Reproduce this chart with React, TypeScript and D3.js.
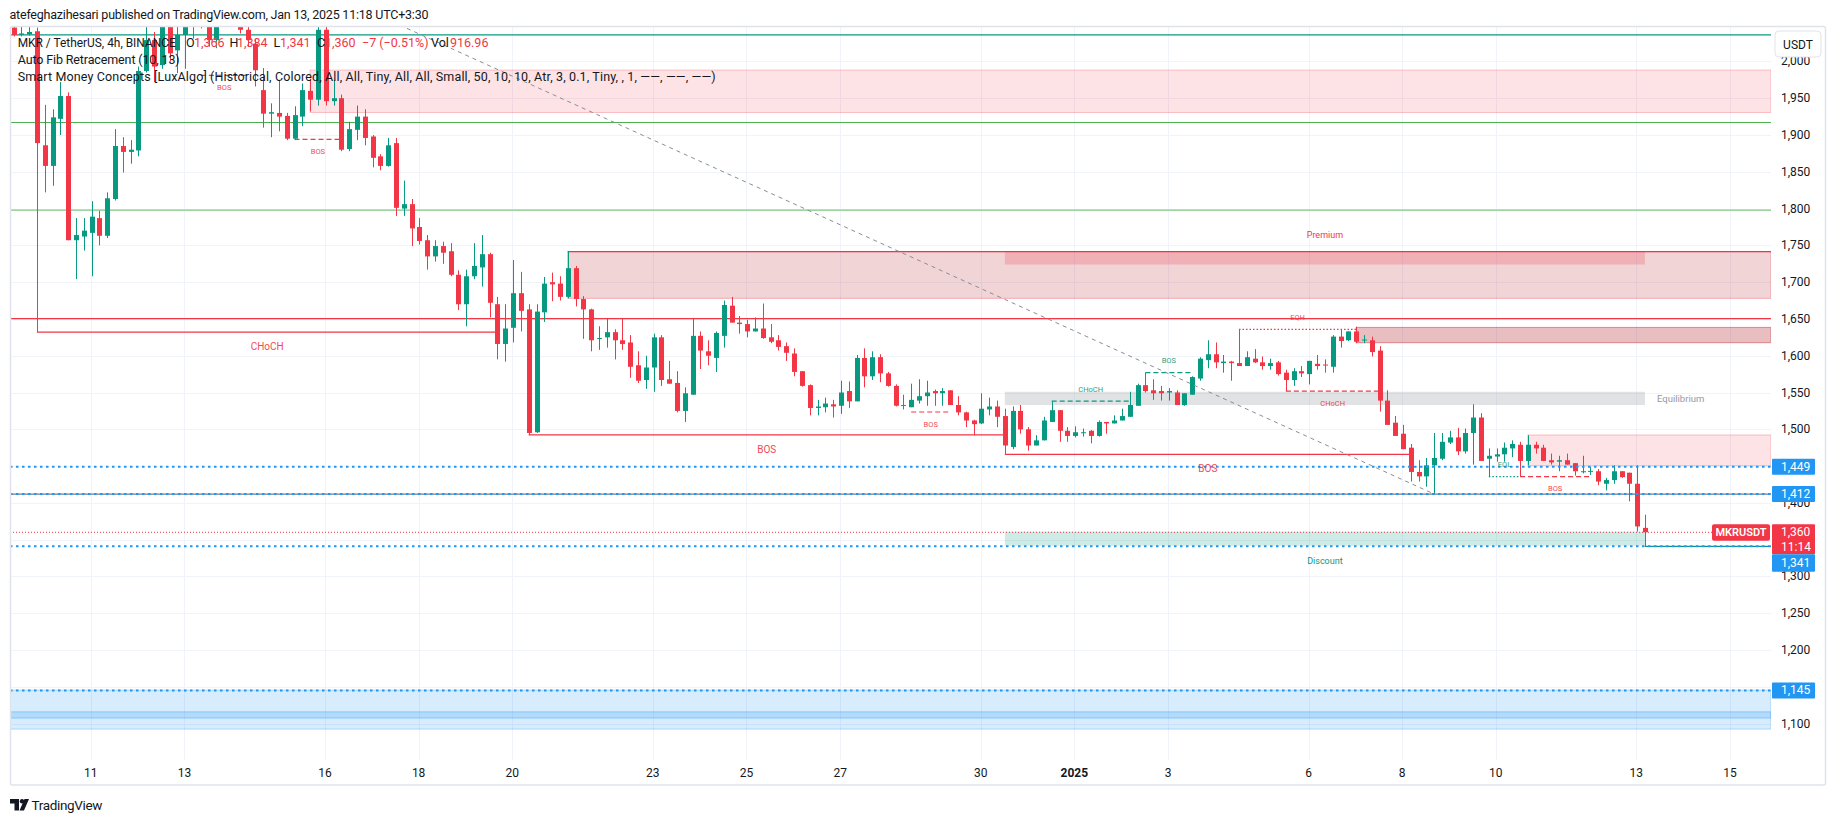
import React from "react";
import * as d3 from "d3";

// ---------------- DATA ----------------
const opens = [
  2046, 2036, 2037, 2041, 1886, 1858, 1922, 1953, 1757, 1762,
  1767, 1787, 1763, 1813, 1885, 1877, 1879, 1987, 2029, 1995,
  2047, 2015, 2036, 2060, 2048, 2072, 2029, 2055, 2075, 2060,
  2043, 2024, 1961, 1929, 1930, 1926, 1895, 1925, 1960, 1948,
  2043, 1946, 1950, 1881, 1907, 1925, 1898, 1871, 1858, 1889,
  1800, 1806, 1775, 1757, 1735, 1749, 1742, 1710, 1670, 1708,
  1720, 1738, 1670, 1616, 1638, 1685, 1663, 1496, 1659, 1700,
  1698, 1680, 1719, 1677, 1663, 1623, 1625, 1632, 1621, 1618,
  1587, 1567, 1584, 1625, 1568, 1563, 1525, 1547, 1627, 1606,
  1597, 1627, 1668, 1645, 1643, 1633, 1637, 1625, 1621, 1613,
  1603, 1579, 1560, 1529, 1530, 1534, 1532, 1552, 1538, 1597,
  1572, 1598, 1576, 1559, 1533, 1530, 1539, 1545, 1552, 1549,
  1553, 1533, 1523, 1512, 1508, 1527, 1531, 1518, 1476, 1525,
  1500, 1478, 1485, 1510, 1526, 1498, 1491, 1495, 1498, 1491,
  1510, 1508, 1512, 1517, 1532, 1560, 1553, 1552, 1550, 1550,
  1533, 1547, 1569, 1594, 1602, 1590, 1592, 1590, 1586, 1596,
  1591, 1586, 1591, 1577, 1567, 1579, 1575, 1589, 1588, 1585,
  1626, 1621, 1633, 1621, 1621, 1607, 1539, 1509, 1494, 1475,
  1442, 1436, 1451, 1460, 1482, 1489, 1470, 1495, 1516, 1460,
  1463, 1466, 1474, 1479, 1457, 1479, 1475, 1458, 1456, 1458,
  1454, 1442, 1443, 1443, 1426, 1431, 1443, 1441, 1426, 1366,
];
const highs = [
  2052, 2047, 2047, 2046, 1941, 1935, 1972, 1958, 1787, 1787,
  1810, 1797, 1822, 1908, 1897, 1893, 1993, 2050, 2040, 2060,
  2070, 2048, 2075, 2080, 2090, 2080, 2070, 2095, 2085, 2070,
  2050, 2030, 1991, 1943, 1975, 1930, 1939, 1970, 1976, 2048,
  2048, 1975, 1955, 1918, 1940, 1935, 1900, 1874, 1896, 1896,
  1838, 1813, 1787, 1764, 1757, 1755, 1753, 1716, 1717, 1753,
  1764, 1740, 1680, 1670, 1730, 1714, 1670, 1670, 1707, 1713,
  1708, 1741.5, 1722, 1681, 1664, 1640, 1651, 1636, 1650, 1628,
  1606, 1600, 1630, 1628, 1593, 1579, 1557, 1651, 1633, 1621,
  1633, 1675, 1680, 1654, 1649, 1652, 1671, 1643, 1628, 1618,
  1610, 1579, 1561, 1540, 1543, 1540, 1566, 1565, 1601, 1610,
  1606, 1602, 1578, 1561, 1547, 1562, 1568, 1566, 1554, 1556,
  1553, 1545, 1524, 1513, 1549, 1543, 1539, 1528, 1531, 1533,
  1503, 1492, 1517, 1538, 1526, 1503, 1504, 1501, 1499, 1512,
  1510, 1519, 1528, 1551, 1562, 1577, 1568, 1559, 1556, 1553,
  1549, 1572, 1598, 1621, 1618, 1601, 1593, 1636, 1606, 1609,
  1599, 1596, 1593, 1581, 1583, 1586, 1593, 1601, 1595, 1628,
  1636, 1633, 1639.5, 1628, 1626, 1613, 1553, 1518, 1506, 1480,
  1458, 1461, 1495, 1495, 1498, 1502, 1501, 1534, 1522, 1474,
  1474, 1482, 1485, 1483, 1492, 1483, 1479, 1467, 1464, 1467,
  1454, 1464, 1449, 1446, 1434, 1451, 1443, 1441, 1451, 1384,
];
const lows = [
  2034, 2034, 2035, 1632, 1822, 1831, 1900, 1757, 1704, 1743,
  1708, 1750, 1760, 1811, 1849, 1861, 1871, 1985, 1972, 1990,
  2000, 1984, 1990, 2031, 2045, 2020, 2018, 2048, 2050, 2038,
  2020, 1966, 1910, 1897, 1905, 1893, 1893, 1912, 1932, 1940,
  1940, 1940, 1878, 1878, 1893, 1886, 1856, 1852, 1857, 1790,
  1790, 1749, 1751, 1717, 1728, 1725, 1708, 1662, 1640, 1704,
  1694, 1652, 1595, 1592, 1618, 1633, 1492, 1495, 1646, 1674,
  1675, 1678, 1667, 1623, 1606, 1608, 1611, 1595, 1608, 1570,
  1563, 1555, 1551, 1559, 1562, 1523, 1510, 1547, 1582, 1587,
  1578, 1611, 1645, 1630, 1625, 1633, 1623, 1617, 1607, 1593,
  1572, 1558, 1519, 1519, 1523, 1516, 1521, 1529, 1538, 1557,
  1567, 1564, 1558, 1531, 1527, 1530, 1535, 1532, 1532, 1532,
  1533, 1519, 1503, 1492, 1507, 1519, 1503, 1466, 1473, 1494,
  1471, 1478, 1485, 1510, 1483, 1483, 1489, 1490, 1481, 1490,
  1494, 1508, 1512, 1517, 1532, 1550, 1540, 1539, 1539, 1533,
  1532, 1547, 1566, 1583, 1583, 1577, 1566, 1586, 1586, 1590,
  1581, 1581, 1573, 1552, 1559, 1571, 1561, 1581, 1577, 1577,
  1611, 1620, 1617, 1617, 1599, 1524, 1506, 1491, 1473, 1429,
  1429, 1422, 1412, 1458, 1480, 1465, 1467, 1452, 1457, 1435,
  1456, 1456, 1462, 1436, 1451, 1467, 1457, 1452, 1443, 1452,
  1437, 1440, 1438, 1424, 1417, 1426, 1434, 1402, 1361, 1341,
];
const closes = [
  2036, 2038, 2040, 1889, 1858, 1924, 1953, 1757, 1764, 1770,
  1789, 1763, 1814, 1885, 1877, 1880, 1987, 2029, 1993, 2047,
  2011, 2036, 2060, 2048, 2072, 2029, 2055, 2075, 2060, 2043,
  2029, 1988, 1929, 1931, 1925, 1895, 1927, 1961, 1948, 2043,
  1946, 1950, 1880, 1908, 1925, 1896, 1869, 1858, 1886, 1801,
  1806, 1773, 1756, 1735, 1749, 1740, 1710, 1670, 1708, 1722,
  1738, 1672, 1616, 1637, 1685, 1661, 1495, 1660, 1698, 1697,
  1680, 1719, 1677, 1663, 1621, 1624, 1632, 1621, 1616, 1585,
  1566, 1584, 1625, 1567, 1562, 1525, 1549, 1627, 1607, 1600,
  1631, 1669, 1645, 1643, 1633, 1637, 1624, 1619, 1612, 1604,
  1578, 1559, 1529, 1531, 1535, 1531, 1550, 1538, 1597, 1572,
  1598, 1576, 1559, 1532, 1532, 1540, 1545, 1550, 1549, 1552,
  1533, 1523, 1512, 1507, 1528, 1531, 1517, 1478, 1525, 1500,
  1478, 1485, 1512, 1526, 1498, 1491, 1496, 1496, 1491, 1510,
  1508, 1512, 1518, 1533, 1560, 1552, 1549, 1549, 1552, 1533,
  1549, 1571, 1596, 1602, 1591, 1592, 1590, 1586, 1598, 1591,
  1586, 1590, 1575, 1567, 1579, 1576, 1593, 1586, 1587, 1626,
  1620, 1633, 1619, 1622, 1605, 1539, 1506, 1491, 1473, 1442,
  1436, 1451, 1461, 1483, 1489, 1470, 1495, 1516, 1457, 1464,
  1466, 1475, 1480, 1457, 1479, 1474, 1457, 1455, 1458, 1452,
  1443, 1443, 1443.5, 1429, 1431, 1443, 1435, 1426, 1368, 1360,
];

// price-axis tick labels (1,150 / 1,350 / 1,450 sit under the coloured axis labels)
const priceTicks = [1100, 1200, 1250, 1300, 1400, 1500, 1550, 1600, 1650, 1700, 1750, 1800, 1850, 1900, 1950, 2000];
const gridPrices = [1100, 1150, 1200, 1250, 1300, 1350, 1400, 1450, 1500, 1550, 1600, 1650, 1700, 1750, 1800, 1850, 1900, 1950, 2000];
const timeTicks: [string, string][] = [
  ["2024-12-11", "11"], ["2024-12-13", "13"], ["2024-12-16", "16"], ["2024-12-18", "18"],
  ["2024-12-20", "20"], ["2024-12-23", "23"], ["2024-12-25", "25"], ["2024-12-27", "27"],
  ["2024-12-30", "30"], ["2025-01-01", "2025"], ["2025-01-03", "3"], ["2025-01-06", "6"],
  ["2025-01-08", "8"], ["2025-01-10", "10"], ["2025-01-13", "13"], ["2025-01-15", "15"],
];

// Auto Fib Retracement anchors (candle index, price)
const fibHigh = { index: -28, price: 2422 };
const fibLow = { index: 182, price: 1412 };
const fibRatios = [0, 0.236, 0.382, 0.5, 0.618];
const fibColors = ["#787b86", "#f23645", "#81c784", "#4caf50", "#089981"];

// User horizontal rays
const rayLevels = [1449, 1412, 1341, 1145];
const blueBox = { top: 1145.6, bottom: 1092.5 };
const blueBand = { top: 1116, bottom: 1107.5 };

// SMC structures: [label, level, fromIdx, toIdx, bullish, kind, size]
const structures: [string, number, number, number, boolean, string, string][] = [
  ["CHoCH", 1632, 3, 62, false, "solid", "small"],
  ["BOS", 1981, 24, 30, false, "dashed", "tiny"],
  ["BOS", 1894, 36, 42, false, "dashed", "tiny"],
  ["BOS", 1492.3, 66, 127, false, "solid", "small"],
  ["BOS", 1523.5, 115, 120, false, "dashed", "tiny"],
  ["BOS", 1466, 127, 179, false, "solid", "small"],
  ["CHoCH", 1538.4, 133, 143, true, "dashed", "tiny"],
  ["BOS", 1576.9, 145, 151, true, "dashed", "tiny"],
  ["EQH", 1635.8, 157, 172, false, "dotted", "tiny"],
  ["CHoCH", 1552, 163, 175, false, "dashed", "tiny"],
  ["EQL", 1435.6, 189, 193, true, "dotted", "tiny"],
  ["BOS", 1435.6, 193, 202, false, "dashed", "tiny"],
];

// Order blocks / zones: [top, bottom, fromIdx, toIdx (-1 = right edge), style]
const zones: [number, number, number, number, string][] = [
  [1988.3, 1930.6, 38, -1, "obLight"],
  [1741.5, 1678, 71, -1, "ob"],
  [1741.5, 1724, 127, 209, "premium"],
  [1638.5, 1617.7, 172, -1, "obDark"],
  [1551, 1533, 127, 209, "equilibrium"],
  [1492.3, 1450.5, 194, -1, "obLight"],
  [1360.8, 1341.8, 127, 209, "discount"],
];

const lastPrice = 1360;
const lastLow = 1341;

// ---------------- LAYOUT ----------------
const W = 1835;
const H = 821;
const PL = 10, PR = 1771, PT = 26, PB = 760;
const FOUR_H = 4 * 3600 * 1000;
const T0 = Date.UTC(2024, 11, 11) - 9.9 * FOUR_H;
const GREEN = "#089981";
const RED = "#f23645";
const BLUE = "#2196f3";
const FONT = "Roboto, 'Noto Sans', 'Liberation Sans', sans-serif";

const x = d3.scaleUtc()
  .domain([new Date(T0), new Date(T0 + 209 * FOUR_H)])
  .range([13.5, 13.5 + 209 * 7.806]);
const xi = (i: number) => x(new Date(T0 + i * FOUR_H));
const y = d3.scaleLinear().domain([1500, 1900]).range([429.3, 135]);
const fmt = d3.format(",");

const zoneStyle: Record<string, { fill: string; stroke: string }> = {
  obLight: { fill: "rgba(242,54,69,0.14)", stroke: "rgba(242,54,69,0.28)" },
  ob: { fill: "rgba(178,40,51,0.2)", stroke: "rgba(242,54,69,0.35)" },
  premium: { fill: "rgba(242,54,69,0.22)", stroke: "none" },
  obDark: { fill: "rgba(178,40,51,0.3)", stroke: "rgba(210,60,75,0.55)" },
  equilibrium: { fill: "rgba(135,139,148,0.25)", stroke: "none" },
  discount: { fill: "rgba(8,153,129,0.2)", stroke: "none" },
};

export default function App() {
  const candles = d3.range(opens.length).map((i) => {
    const o = opens[i], h = highs[i], l = lows[i], c = closes[i];
    const cx = Math.round(xi(i));
    const col = c >= o ? GREEN : RED;
    const yt = y(Math.max(o, c));
    const yb = y(Math.min(o, c));
    return (
      <g key={i}>
        <line x1={cx + 0.5} x2={cx + 0.5} y1={y(h)} y2={y(l)} stroke={col} strokeWidth={1} />
        <rect x={cx - 2} y={yt} width={5} height={Math.max(1, yb - yt)} fill={col} />
      </g>
    );
  });

  const fibLevels = fibRatios.map((r) => fibLow.price + r * (fibHigh.price - fibLow.price));
  const dash = (k: string) => (k === "dashed" ? "5 3" : k === "dotted" ? "1.5 2" : undefined);

  return (
    <svg width={W} height={H} style={{ position: "absolute", left: 0, top: 0, background: "#fff" }} fontFamily={FONT}>
      <defs>
        <clipPath id="plot">
          <rect x={PL} y={PT} width={PR - PL} height={PB - PT} />
        </clipPath>
      </defs>
      <rect x={0} y={0} width={W} height={H} fill="#fff" />

      {/* grid */}
      <g stroke="#f0f3fa" strokeWidth={1}>
        {gridPrices.map((p) => (
          <line key={p} x1={PL} x2={PR} y1={Math.round(y(p)) + 0.5} y2={Math.round(y(p)) + 0.5} />
        ))}
        {timeTicks.map(([d]) => {
          const xx = Math.round(x(new Date(d + "T00:00:00Z"))) + 0.5;
          return <line key={d} x1={xx} x2={xx} y1={PT} y2={PB} />;
        })}
      </g>

      <g clipPath="url(#plot)">
        {/* blue box */}
        <rect x={PL} width={PR - PL} y={y(blueBox.top)} height={y(blueBox.bottom) - y(blueBox.top)}
          fill="rgba(33,150,243,0.18)" stroke="rgba(33,150,243,0.3)" />
        <rect x={PL} width={PR - PL} y={y(blueBand.top)} height={y(blueBand.bottom) - y(blueBand.top)}
          fill="rgba(33,150,243,0.2)" stroke="rgba(33,150,243,0.35)" />

        {/* zones */}
        {zones.map(([top, bot, from, to, st], k) => {
          const x1 = xi(from);
          const x2 = to < 0 ? PR : xi(to);
          const s = zoneStyle[st];
          return (
            <rect key={k} x={x1} y={y(top)} width={x2 - x1} height={y(bot) - y(top)}
              fill={s.fill} stroke={s.stroke} strokeWidth={1} />
          );
        })}

        {/* fib levels */}
        {fibLevels.map((p, k) => (
          <line key={k} x1={PL} x2={PR} y1={y(p)} y2={y(p)} stroke={fibColors[k]} strokeWidth={1.2} />
        ))}

        {/* trailing extremes */}
        <line x1={xi(71)} x2={PR} y1={y(1741.5)} y2={y(1741.5)} stroke={RED} strokeWidth={1.2} />
        <line x1={xi(209)} x2={PR} y1={y(lastLow)} y2={y(lastLow)} stroke={GREEN} strokeWidth={1.2} />

        {/* structure lines */}
        {structures.map(([lab, lvl, a, b, bull, kind], k) => (
          <line key={k} x1={xi(a)} x2={xi(b)} y1={y(lvl)} y2={y(lvl)}
            stroke={bull ? GREEN : RED} strokeWidth={kind === "solid" ? 1.3 : 1.2}
            strokeDasharray={dash(kind)} />
        ))}

        {/* candles */}
        {candles}

        {/* user rays */}
        {rayLevels.map((p) => (
          <line key={p} x1={PL} x2={PR} y1={y(p)} y2={y(p)} stroke={BLUE} strokeWidth={2} strokeDasharray="2.5 3.5" />
        ))}

        {/* fib trend line */}
        <line x1={xi(fibHigh.index)} y1={y(fibHigh.price)} x2={xi(fibLow.index)} y2={y(fibLow.price)}
          stroke="#8a8d96" strokeWidth={1} strokeDasharray="4 4" />

        {/* last price line */}
        <line x1={PL} x2={PR} y1={y(lastPrice)} y2={y(lastPrice)} stroke={RED} strokeWidth={1} strokeDasharray="1 2" />

        {/* structure labels */}
        {structures.map(([lab, lvl, a, b, bull, kind, size], k) => {
          const above = lab === "EQH" || bull;
          const fs = size === "small" ? 10 : 7.5;
          const off = size === "small" ? 14.5 : 12;
          return (
            <text key={k} x={(xi(a) + xi(b)) / 2} y={y(lvl) + (above ? -off : off)}
              fontSize={fs} fill={bull ? GREEN : RED} textAnchor="middle" dominantBaseline="central"
              opacity={0.9}>
              {lab}
            </text>
          );
        })}
        <text x={(xi(127) + xi(209)) / 2} y={y(1741.5) - 17} fontSize={9} fill={RED} textAnchor="middle" dominantBaseline="central">Premium</text>
        <text x={(xi(127) + xi(209)) / 2} y={y(1341.8) + 15} fontSize={9} fill={GREEN} textAnchor="middle" dominantBaseline="central">Discount</text>
        <text x={xi(209) + 12} y={y(1542)} fontSize={9.5} fill="#9598a1" dominantBaseline="central">Equilibrium</text>
      </g>

      {/* MKRUSDT label */}
      <rect x={1712} y={524.3} width={58} height={16.5} fill={RED} rx={2} />
      <text x={1741} y={532.8} fontSize={11} fontWeight={600} fill="#fff" textAnchor="middle" dominantBaseline="central">MKRUSDT</text>

      {/* price axis labels */}
      <g fontSize={12} fill="#131722">
        {priceTicks.map((p) => (
          <text key={p} x={1781} y={y(p)} dominantBaseline="central">{fmt(p)}</text>
        ))}
      </g>
      <rect x={1775} y={31} width={46} height={26} rx={4} fill="#fff" stroke="#e0e3eb" />
      <text x={1798} y={44.5} fontSize={12} fill="#131722" textAnchor="middle" dominantBaseline="central">USDT</text>

      {[1449, 1412, 1145].map((p) => (
        <g key={p}>
          <rect x={1772} y={y(p) - 8} width={43} height={16} fill={BLUE} rx={1} />
          <text x={1781} y={y(p)} fontSize={12} fill="#fff" dominantBaseline="central">{fmt(p)}</text>
        </g>
      ))}
      <rect x={1772} y={524.3} width={43} height={30} fill={RED} rx={1} />
      <text x={1781} y={532.3} fontSize={12} fill="#fff" dominantBaseline="central">{fmt(lastPrice)}</text>
      <text x={1781} y={546.8} fontSize={12} fill="#fff" dominantBaseline="central">11:14</text>
      <rect x={1772} y={554.3} width={43} height={17.4} fill={BLUE} rx={1} />
      <text x={1781} y={563} fontSize={12} fill="#fff" dominantBaseline="central">{fmt(lastLow)}</text>

      {/* time axis labels */}
      <g fontSize={12} fill="#131722">
        {timeTicks.map(([d, lab]) => (
          <text key={d} x={x(new Date(d + "T00:00:00Z"))} y={772.5} textAnchor="middle" dominantBaseline="central"
            fontWeight={lab === "2025" ? 700 : 400}>{lab}</text>
        ))}
      </g>

      {/* frame */}
      <rect x={10.5} y={26.5} width={1815} height={758.5} fill="none" stroke="#e0e3eb" strokeWidth={1.5} rx={2} />

      {/* legend */}
      <g fontSize={12.5} dominantBaseline="central">
        <text x={17.7} y={42.7} fill="#131722" textLength={158} lengthAdjust="spacingAndGlyphs">MKR / TetherUS, 4h, BINANCE</text>
        <text x={186} y={42.7} fill="#131722">O</text>
        <text x={194} y={42.7} fill={RED}>1,366</text>
        <text x={229.5} y={42.7} fill="#131722">H</text>
        <text x={237} y={42.7} fill={RED}>1,384</text>
        <text x={273.5} y={42.7} fill="#131722">L</text>
        <text x={280} y={42.7} fill={RED}>1,341</text>
        <text x={317} y={42.7} fill="#131722">C</text>
        <text x={325} y={42.7} fill={RED}>1,360</text>
        <text x={362} y={42.7} fill={RED}>−7 (−0.51%)</text>
        <text x={431} y={42.7} fill="#131722">Vol</text>
        <text x={450} y={42.7} fill={RED}>916.96</text>
        <text x={17.7} y={59.3} fill="#131722" textLength={162}>Auto Fib Retracement (10, 13)</text>
        <text x={17.7} y={76} fill="#131722" textLength={698}>Smart Money Concepts [LuxAlgo] (Historical, Colored, All, All, Tiny, All, All, Small, 50, 10, 10, Atr, 3, 0.1, Tiny, , 1, ——, ——, ——)</text>
      </g>

      {/* header */}
      <text x={9.5} y={14} fontSize={12.5} fill="#131722" dominantBaseline="central" textLength={419}>
        atefeghazihesari published on TradingView.com, Jan 13, 2025 11:18 UTC+3:30
      </text>

      {/* footer logo */}
      <g fill="#131722">
        <path d="M10 799 h9 v11.5 h-4.5 v-7 h-4.5 z" />
        <circle cx={22} cy={801.3} r={2.2} />
        <path d="M19.5 810.5 l5 -11.5 h4.5 l-5 11.5 z" />
      </g>
      <text x={31.5} y={805} fontSize={13.5} fill="#131722" dominantBaseline="central" textLength={71}>TradingView</text>
    </svg>
  );
}
